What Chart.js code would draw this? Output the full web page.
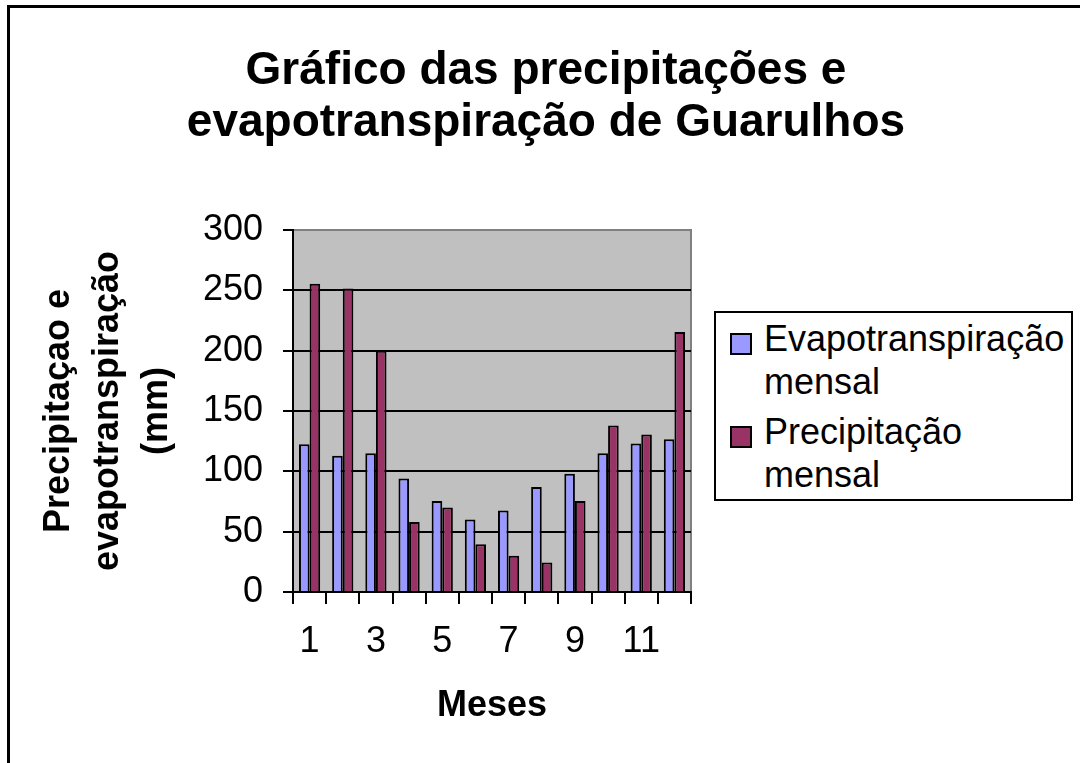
<!DOCTYPE html>
<html>
<head>
<meta charset="utf-8">
<script src="https://cdn.jsdelivr.net/npm/chart.js@4.4.1/dist/chart.umd.min.js"></script>
<style>
  html, body { margin: 0; padding: 0; background: #fff; }
  body { width: 1080px; height: 763px; position: relative; overflow: hidden; font-family: "Liberation Sans", Arial, sans-serif; }
  #frame { position: absolute; left: 7px; top: 5px; width: 1200px; height: 900px; border-top: 3px solid #000; border-left: 3px solid #000; }
  #title { position: absolute; left: 0; top: 42px; width: 1092px; text-align: center; font-weight: bold; font-size: 46px; line-height: 52px; color: #000; }
  #chartWrap { position: absolute; left: 0; top: 0; width: 1080px; height: 763px; }
  #legend { position: absolute; left: 714px; top: 311px; width: 355px; height: 186px; border: 2px solid #000; background: #fff; }
  .item { position: absolute; left: 48px; font-size: 36px; line-height: 43px; color: #000; }
  .box { position: absolute; left: 14px; width: 18px; height: 18px; border: 2px solid #000; }
</style>
</head>
<body>
<div id="frame"></div>
<div id="chartWrap"><canvas id="chart" width="1080" height="763"></canvas></div>
<div id="title">Gráfico das precipitações e<br>evapotranspiração de Guarulhos</div>
<div id="legend">
  <div class="box" style="top:20px;background:#9999FF"></div>
  <div class="item" style="top:4px">Evapotranspiração<br>mensal</div>
  <div class="box" style="top:113px;background:#993366"></div>
  <div class="item" style="top:97px">Precipitação<br>mensal</div>
</div>
<script>
// months
const meses = ['1', '2', '3', '4', '5', '6', '7', '8', '9', '10', '11', '12'];
// mm
const evapotranspiracao = [122.5, 113, 115, 94, 75.5, 60, 67.5, 87, 98, 115, 123, 126.5];
const precipitacao = [255.5, 251.5, 200, 58, 70, 39.5, 30, 24.5, 75.5, 138, 130.5, 215.5];
const yTicks = [0, 50, 100, 150, 200, 250, 300];

// grey plot area with grey top/right edge
const plotBg = {
    id: 'plotBg',
    beforeDraw(chart) {
        const a = chart.chartArea;
        const c = chart.ctx;
        c.save();
        c.fillStyle = '#C0C0C0';
        c.fillRect(a.left, a.top, a.right - a.left, a.bottom - a.top);
        c.strokeStyle = '#808080';
        c.lineWidth = 2;
        c.beginPath();
        c.moveTo(a.left, a.top);
        c.lineTo(a.right, a.top);
        c.lineTo(a.right, a.bottom);
        c.stroke();
        c.restore();
    }
};

const font = { family: '"Liberation Sans", Arial, sans-serif', size: 36 };

new Chart(document.getElementById('chart').getContext('2d'), {
    type: 'bar',
    data: {
        labels: meses,
        datasets: [
            {
                label: 'Evapotranspiração mensal',
                data: evapotranspiracao,
                backgroundColor: '#9999FF',
                borderColor: '#000',
                borderWidth: 2
            },
            {
                label: 'Precipitação mensal',
                data: precipitacao,
                backgroundColor: '#993366',
                borderColor: '#000',
                borderWidth: 2
            }
        ]
    },
    options: {
        responsive: false,
        animation: false,
        layout: { padding: { left: 20, top: 230, right: 389, bottom: 0 } },
        datasets: { bar: { categoryPercentage: 0.64, barPercentage: 1 } },
        plugins: { legend: { display: false }, tooltip: { enabled: false } },
        scales: {
            x: {
                afterFit: (s) => { s.height = 171; },
                grid: { offset: true, drawOnChartArea: false, color: '#000', tickLength: 12, lineWidth: 2 },
                border: { color: '#000', width: 2 },
                ticks: {
                    autoSkip: false, maxRotation: 0, padding: 16, color: '#000', font: font,
                    callback: function(v, i) { return i % 2 === 0 ? meses[i] : ''; }
                },
                title: {
                    display: true, text: 'Meses', color: '#000',
                    font: { family: font.family, size: 36, weight: 'bold' },
                    padding: { top: 0, bottom: 35 }
                }
            },
            y: {
                min: 0, max: 300,
                afterFit: (s) => { s.width = 273; },
                afterBuildTicks: (s) => { s.ticks = yTicks.map(v => ({ value: v })); },
                grid: {
                    color: (ctx) => ctx.tick && ctx.tick.value === 300 ? '#808080' : '#000',
                    tickColor: '#000', tickLength: 10, lineWidth: 2
                },
                border: { color: '#000', width: 2 },
                ticks: { padding: 20, color: '#000', font: font },
                title: {
                    display: true, text: ['Precipitaçao e', 'evapotranspiração', '(mm)'], color: '#000',
                    font: { family: font.family, size: 36, weight: 'bold', lineHeight: 1.36 },
                    padding: { top: 15, bottom: 0 }
                }
            }
        }
    },
    plugins: [plotBg]
});
</script>
</body>
</html>
